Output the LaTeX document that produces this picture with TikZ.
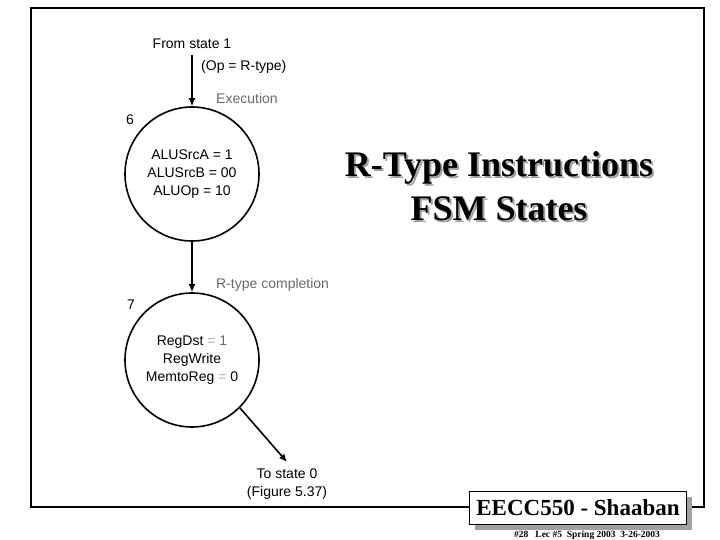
\documentclass[tikz,border=0pt]{standalone}
\usepackage{fontspec}
\setmainfont{Liberation Serif}
\setsansfont{Liberation Sans}
\usetikzlibrary{arrows.meta,positioning,shadows}
\definecolor{PhaseGray}{RGB}{105,105,105}
\definecolor{EqGray}{RGB}{175,175,175}
\definecolor{ShadeGray}{RGB}{160,160,160}
\tikzset{
  state/.style={circle,draw,line width=1.6pt,minimum size=134pt,inner sep=0pt,
    align=center,font=\sffamily\fontsize{14}{18}\selectfont},
  note/.style={inner sep=0pt,align=center,font=\sffamily\fontsize{14}{18}\selectfont},
  phase/.style={note,text=PhaseGray},
  arrow/.style={-{Latex[length=8pt,width=7pt]},line width=1.6pt},
  frame/.style={line width=2.6pt},
  headline/.style={align=center,font=\bfseries\fontsize{36}{44}\selectfont},
  footbox/.style={draw,line width=1.2pt,fill=white,minimum width=217pt,
    minimum height=33pt,inner sep=0pt,font=\bfseries\fontsize{23}{23}\selectfont,
    drop shadow={shadow xshift=5pt,shadow yshift=-5pt,fill=ShadeGray,opacity=1}},
  footnote/.style={inner sep=0pt,font=\bfseries\fontsize{9.5}{10}\selectfont}
}
\begin{document}
\begin{tikzpicture}[x=1pt,y=-1pt]
  \useasboundingbox (0,0) rectangle (720,540);
  \draw[frame] (31,8) rectangle (704,507);

  % states
  \node[state] (exec) at (192,174) {ALUSrcA = 1\\ALUSrcB = 00\\ALUOp = 10};
  \node[state] (done) at (192,360)
    {RegDst {\color{EqGray}=} {\color{PhaseGray}1}\\RegWrite\\MemtoReg {\color{EqGray}=} 0};
  \node[note] (from) at (192,44) {From state 1};
  \node[note,anchor=west] (cond) at (201,67) {(Op = R-type)};
  \node[phase,anchor=west] (execlbl) at (216,98) {Execution};
  \node[phase,anchor=west] (donelbl) at (216,285) {R-type completion};
  \node[note] (num6) at (130,120) {6};
  \node[note] (num7) at (131,305) {7};
  \coordinate (exit) at (287,462);
  \node[note] (to) at (287,484) {To state 0\\(Figure 5.37)};

  \draw[arrow,shorten <=6pt] (from.south) -- (exec);
  \draw[arrow] (exec) -- (done);
  \draw[arrow] (done.-45) -- (exit);

  % title with shadow
  \node[headline,text=ShadeGray] (shade) at (501,188) {R-Type Instructions\\FSM States};
  \node[headline] (title) at (499,186) {R-Type Instructions\\FSM States};

  % footer
  \node[footbox] (course) at (578,508) {EECC550 - Shaaban};
  \node[footnote] (lecture) at (587,535) {\#28\ \ \ Lec \#5\ \ Spring 2003\ \ 3-26-2003};
\end{tikzpicture}
\end{document}
